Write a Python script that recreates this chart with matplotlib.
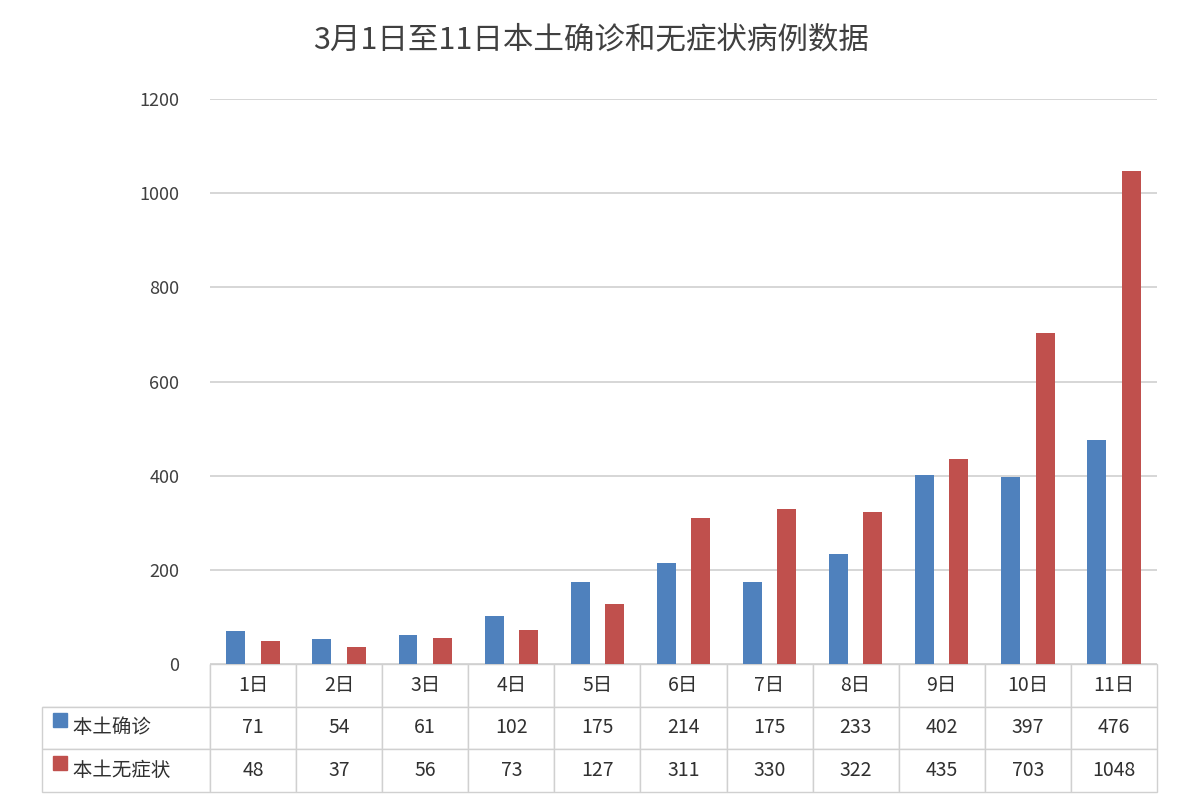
import numpy as np
import matplotlib.pyplot as plt

plt.rcParams['font.family'] = ['Noto Sans CJK SC', 'DejaVu Sans']

days = ['1日', '2日', '3日', '4日', '5日', '6日', '7日', '8日', '9日', '10日', '11日']
confirmed = [71, 54, 61, 102, 175, 214, 175, 233, 402, 397, 476]
asymptomatic = [48, 37, 56, 73, 127, 311, 330, 322, 435, 703, 1048]
names = ['本土确诊', '本土无症状']
colors = ['#4F81BD', '#C0504D']

fig = plt.figure(figsize=(11.83, 8), dpi=100)
ax = fig.add_axes([0.1775, 0.17, 0.8005, 0.706])

x = np.arange(len(days))
ax.bar(x - 0.2, confirmed, width=0.22, color=colors[0])
ax.bar(x + 0.2, asymptomatic, width=0.22, color=colors[1])

ax.set_xlim(-0.5, len(days) - 0.5)
ax.set_ylim(0, 1200)
ax.set_yticks(range(0, 1201, 200))
ax.yaxis.grid(True, color='#d0d0d0', lw=1.2)
ax.set_axisbelow(True)
ax.tick_params(axis='y', length=0, labelsize=13, colors='#404040', pad=22)
ax.set_xticks([])
for s in ax.spines.values():
    s.set_visible(False)

cells = [[''] + days,
         ['     ' + names[0]] + [str(v) for v in confirmed],
         ['     ' + names[1]] + [str(v) for v in asymptomatic]]
tb = ax.table(cellText=cells, bbox=[-0.177, -0.2265, 1.177, 0.2265], cellLoc='center')
tb.auto_set_font_size(False)
tb.set_fontsize(14)
w0 = 0.177 / 1.177
for (r, c), cell in tb.get_celld().items():
    cell.set_edgecolor('#d0d0d0')
    cell.set_width(w0 if c == 0 else (1 - w0) / len(days))
    cell.get_text().set_color('#303030')
    if c == 0:
        cell.get_text().set_ha('left')
        cell.PAD = 0.05
    if r == 0 and c == 0:
        cell.visible_edges = 'BR'
for i, col in enumerate(colors):
    ax.plot(-0.158, -0.0995 - i * 0.076, 's', color=col, ms=10,
            transform=ax.transAxes, clip_on=False)

fig.text(0.5, 0.95, '3月1日至11日本土确诊和无症状病例数据', ha='center',
         va='center', fontsize=22, color='#404040')

fig.savefig('out.png')
